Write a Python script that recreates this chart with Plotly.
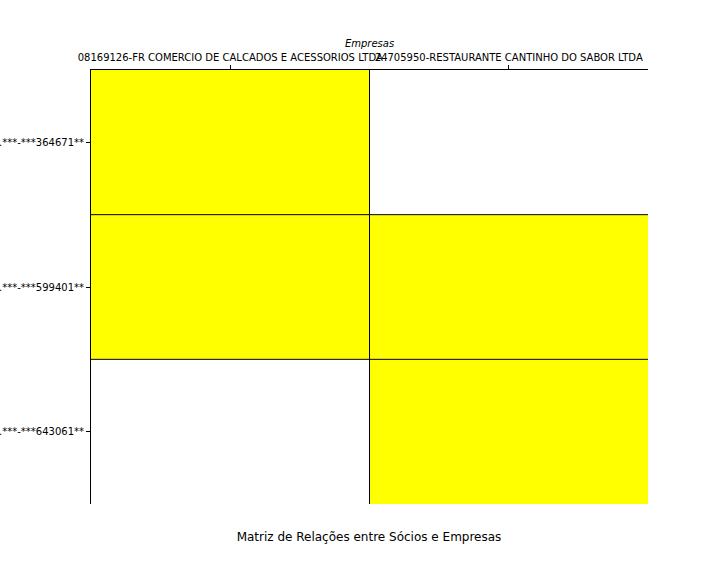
import plotly.graph_objects as go

empresas = ["08169126-FR COMERCIO DE CALCADOS E ACESSORIOS LTDA",
            "24705950-RESTAURANTE CANTINHO DO SABOR LTDA"]
socios = ["***.***-***364671**", "***.***-***599401**", "***.***-***643061**"]
relacoes = [[1, 0],
            [1, 1],
            [0, 1]]

fig = go.Figure(go.Heatmap(
    z=relacoes, x=empresas, y=socios,
    colorscale=[[0, "#ffffff"], [1, "#ffff00"]],
    zmin=0, zmax=1, showscale=False, hoverinfo="skip"))

line_style = dict(color="black", width=1)
shapes = []
for i in range(len(empresas) - 1):
    shapes.append(dict(type="line", xref="x", yref="paper", x0=i + 0.5, x1=i + 0.5,
                       y0=0, y1=1, line=line_style, layer="above"))
for j in range(len(socios) - 1):
    shapes.append(dict(type="line", xref="paper", yref="y", x0=0, x1=1,
                       y0=j + 0.5, y1=j + 0.5, line=line_style, layer="above"))

fig.update_layout(
    width=720, height=576,
    margin=dict(l=91, r=72, t=70, b=72),
    paper_bgcolor="white", plot_bgcolor="white",
    font=dict(family="DejaVu Sans", size=10, color="black"),
    shapes=shapes,
    title=dict(text="Matriz de Relações entre Sócios e Empresas",
               x=0.5125, xanchor="center", xref="container",
               y=1 - 537 / 576, yref="container", yanchor="middle",
               font=dict(size=12, family="DejaVu Sans", color="black")),
    xaxis=dict(side="top", showline=True, linecolor="black", linewidth=1,
               ticks="outside", ticklen=4, tickcolor="black", tickangle=0,
               automargin=False,
               showgrid=False, zeroline=False, fixedrange=True,
               title=dict(text="<i>Empresas</i>", standoff=2,
                          font=dict(size=10))),
    yaxis=dict(autorange="reversed", showline=True, linecolor="black", linewidth=1,
               ticks="outside", ticklen=4, tickcolor="black", automargin=False,
               showgrid=False, zeroline=False, fixedrange=True),
)

fig.write_html("out.html")
